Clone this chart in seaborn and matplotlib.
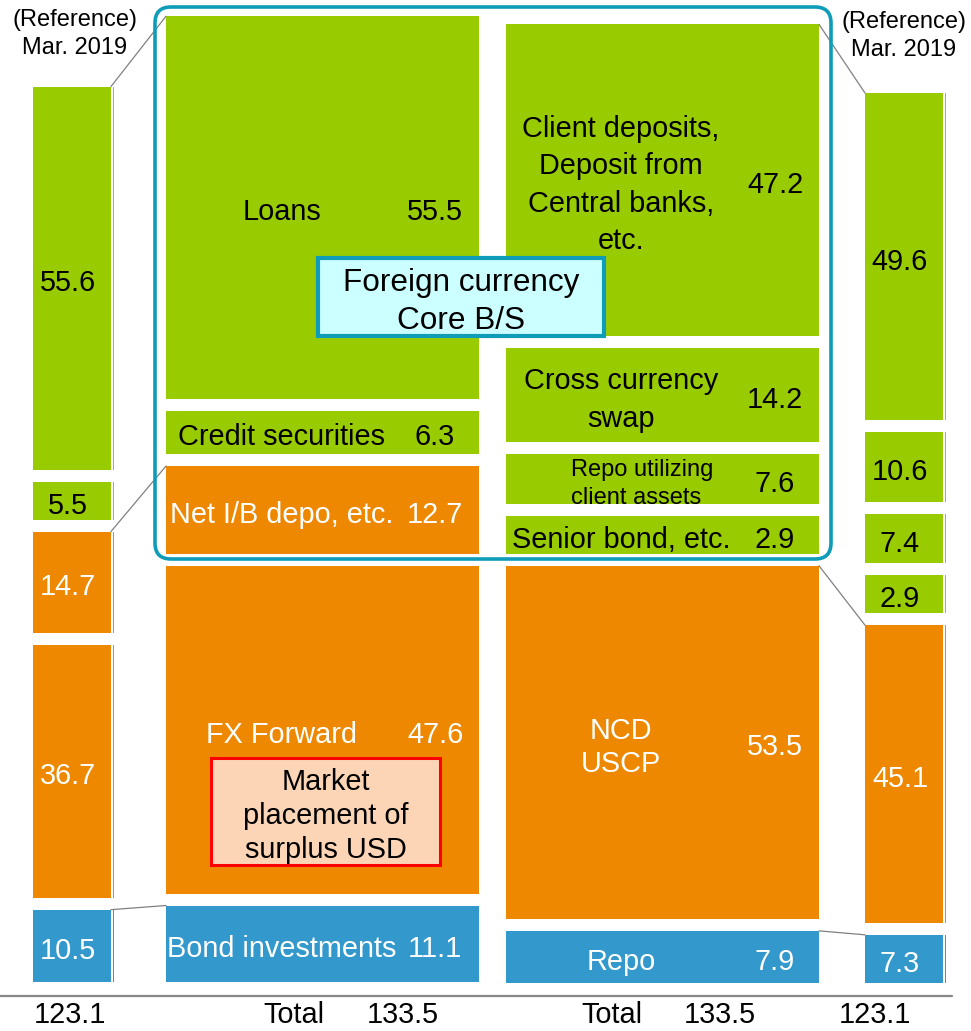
import numpy as np
import seaborn as sns
import matplotlib.pyplot as plt
from matplotlib.patches import FancyBboxPatch, Rectangle

# Foreign currency B/S (USD bn) - blocks listed bottom -> top
asset_labels = ['Bond investments', 'FX Forward', 'Net I/B depo, etc.',
                'Credit securities', 'Loans']
asset_now = [11.1, 47.6, 12.7, 6.3, 55.5]
asset_ref = [10.5, 36.7, 14.7, 5.5, 55.6]
asset_kind = ['blue', 'orange', 'orange', 'green', 'green']

liab_labels = ['Repo', 'NCD\nUSCP', 'Senior bond, etc.',
               'Repo utilizing\nclient assets', 'Cross currency\nswap',
               'Client deposits,\nDeposit from\nCentral banks,\netc.']
liab_now = [7.9, 53.5, 2.9, 7.6, 14.2, 47.2]
liab_ref = [7.3, 45.1, 2.9, 7.4, 10.6, 49.6]
liab_kind = ['blue', 'orange', 'green', 'green', 'green', 'green']

total_now = 133.5
total_ref = 123.1

palette = {'green': '#99CC00', 'orange': '#EE8800', 'blue': '#3399CC'}
text_col = {'green': 'black', 'orange': 'white', 'blue': 'white'}
teal = '#0E9CB8'
FS = 20.8
DY = 5  # text sits a little below block centre (px)

# special text styles for some labels
special = {
    'Client deposits,\nDeposit from\nCentral banks,\netc.': dict(linespacing=1.42),
    'Cross currency\nswap': dict(linespacing=1.46),
    'NCD\nUSCP': dict(linespacing=1.22),
    'Repo utilizing\nclient assets': dict(linespacing=1.34, fontsize=17, ha='left', x=571),
}

W, H = 971, 1031
sns.set_theme(style='white')
plt.rcParams['font.family'] = ['Liberation Sans', 'DejaVu Sans']
fig = plt.figure(figsize=(W / 100, H / 100), dpi=100)


def side_axes(scale, base_px):
    ax = fig.add_axes([0, 0, 1, 1])
    ax.patch.set_alpha(0)
    lims = ((0, W), (-(H - base_px) / scale, base_px / scale))
    return ax, lims


def stack(ax, xc, w, values, kinds, gap, min_h=0.0):
    shown = np.maximum(np.array(values, dtype=float), min_h)
    bottoms = np.concatenate([[0], np.cumsum(shown + gap)[:-1]])
    for h, b, k in zip(shown, bottoms, kinds):
        sns.barplot(x=[xc], y=[h], bottom=b, width=w, native_scale=True, orient='x',
                    color=palette[k], saturation=1, errorbar=None, linewidth=0, ax=ax)
    return shown, bottoms


def group_tops(shown, bottoms, kinds):
    tops = {}
    for h, b, k in zip(shown, bottoms, kinds):
        tops[k] = max(tops.get(k, 0), b + h)
    return tops


def label_main(ax, shown, bottoms, labels, values, kinds, x_lab, x_val, dy):
    for h, b, lab, v, k in zip(shown, bottoms, labels, values, kinds):
        y = b + h / 2 - dy
        st = dict(x=x_lab, ha='center', fontsize=FS, linespacing=1.3)
        st.update(special.get(lab, {}))
        ax.text(st.pop('x'), y, lab, va='center', color=text_col[k], **st)
        ax.text(x_val, y, f'{v:.1f}', ha='center', va='center', color=text_col[k], fontsize=FS)


def label_ref(ax, shown, bottoms, values, kinds, x, dy):
    for h, b, v, k in zip(shown, bottoms, values, kinds):
        ax.text(x, b + h / 2 - dy, f'{v:.1f}', ha='center', va='center',
                color=text_col[k], fontsize=FS)


# ---- asset side ----
sL = 6.89
ax_l, lim_l = side_axes(sL, 982)
gL = 12 / sL
sh_ar, bo_ar = stack(ax_l, 72, 78, asset_ref, asset_kind, gL)
stack(ax_l, 113.3, 1.3, asset_ref, asset_kind, gL)
sh_an, bo_an = stack(ax_l, 322.5, 313, asset_now, asset_kind, gL)
label_ref(ax_l, sh_ar, bo_ar, asset_ref, asset_kind, 68, DY / sL)
label_main(ax_l, sh_an, bo_an, asset_labels, asset_now, asset_kind, 282, 435, DY / sL)
t_ref = group_tops(sh_ar, bo_ar, asset_kind)
t_now = group_tops(sh_an, bo_an, asset_kind)
for k in ['green', 'orange', 'blue']:
    ax_l.plot([111, 166], [t_ref[k], t_now[k]], color='#808080', lw=0.9)

# ---- liability side ----
sR = 6.6
ax_r, lim_r = side_axes(sR, 983)
gR = 12 / sR
min_h = 38 / sR
sh_ln, bo_ln = stack(ax_r, 662.5, 313, liab_now, liab_kind, gR, min_h)
sh_lr, bo_lr = stack(ax_r, 904, 78, liab_ref, liab_kind, gR, min_h)
stack(ax_r, 945.2, 1.4, liab_ref, liab_kind, gR, min_h)
label_main(ax_r, sh_ln, bo_ln, liab_labels, liab_now, liab_kind, 621, 775, DY / sR)
label_ref(ax_r, sh_lr, bo_lr, liab_ref, liab_kind, 900, DY / sR)
t_now = group_tops(sh_ln, bo_ln, liab_kind)
t_ref = group_tops(sh_lr, bo_lr, liab_kind)
for k in ['green', 'orange', 'blue']:
    ax_r.plot([819, 865], [t_now[k], t_ref[k]], color='#808080', lw=0.9)

for ax, lims in [(ax_l, lim_l), (ax_r, lim_r)]:
    ax.set_xlim(*lims[0])
    ax.set_ylim(*lims[1])
    ax.axis('off')

# ---- overlay in pixel coordinates ----
ov = fig.add_axes([0, 0, 1, 1])
ov.patch.set_alpha(0)
ov.set_xlim(0, W)
ov.set_ylim(H, 0)
ov.axis('off')

ov.add_patch(FancyBboxPatch((155, 7), 676, 552, boxstyle='round,pad=0,rounding_size=16',
                            fc='none', ec=teal, lw=2.6))
ov.add_patch(Rectangle((318, 258), 286, 78, fc='#CCFFFF', ec=teal, lw=3))
ov.text(461, 302, 'Foreign currency\nCore B/S', ha='center', va='center',
        fontsize=22.7, linespacing=1.33, color='black')
ov.add_patch(Rectangle((211, 758), 229, 107, fc='#FBD5B5', ec='#FF0000', lw=2.2))
ov.text(326, 816, 'Market\nplacement of\nsurplus USD', ha='center', va='center',
        fontsize=FS, linespacing=1.28, color='black')

for x in (75, 904):
    ov.text(x, 36 if x > 500 else 34, '(Reference)\nMar. 2019', ha='center', va='center',
            fontsize=17, linespacing=1.35, color='black')

ov.plot([0, 952], [996, 996], color='#888888', lw=1.6)
for x, s in [(70, f'{total_ref:.1f}'), (294, 'Total'), (403, f'{total_now:.1f}'),
             (612, 'Total'), (720, f'{total_now:.1f}'), (875, f'{total_ref:.1f}')]:
    ov.text(x, 1015, s, ha='center', va='center', fontsize=FS, color='black')

fig.savefig('out.png', dpi=100, facecolor='white')
